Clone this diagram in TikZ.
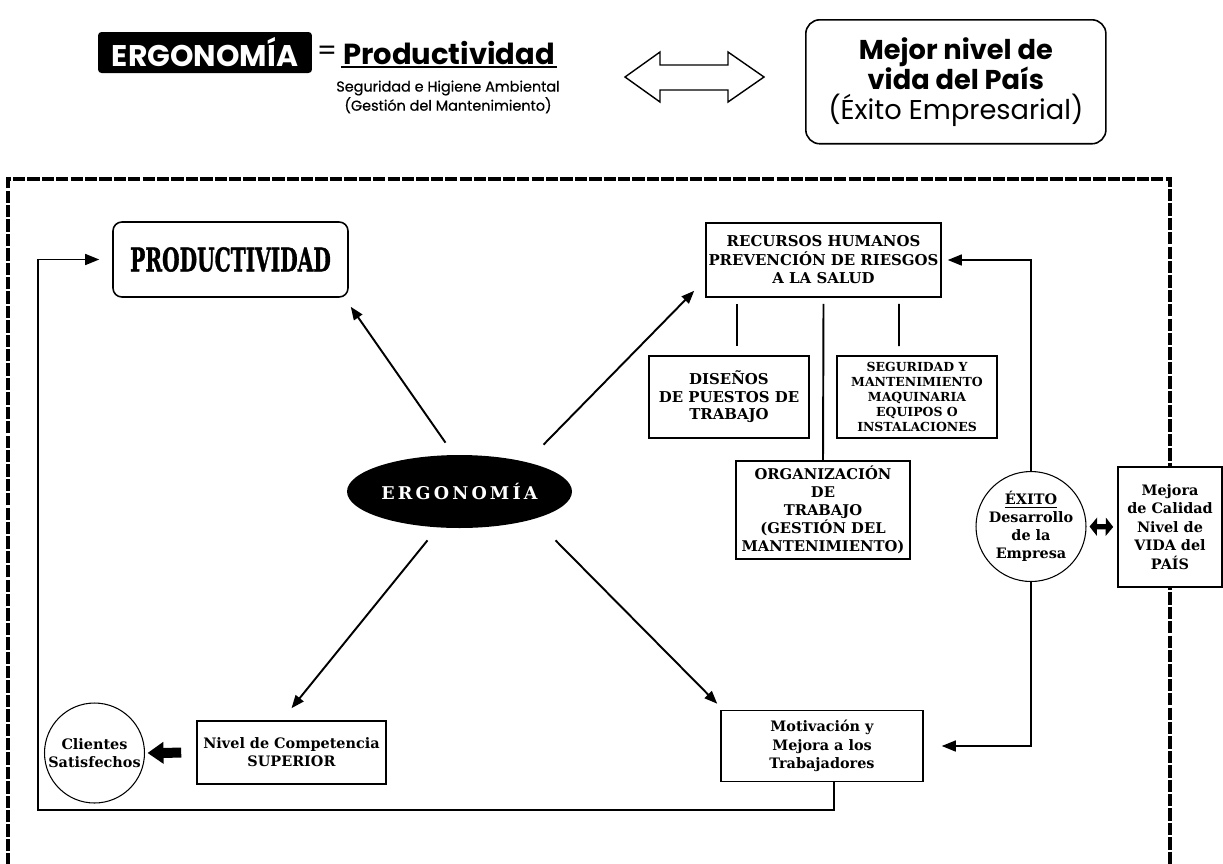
\documentclass[tikz,border=0pt]{standalone}
\usepackage{fontspec}
\setmainfont{DejaVu Serif}
\newfontfamily\geo{Poppins}
\newfontfamily\geomed[FakeBold=0.6]{Poppins}
\newfontfamily\gruesa[BoldFeatures={FakeBold=1.4}]{DejaVu Serif}
\newfontfamily\espaciada[LetterSpace=18]{DejaVu Serif}
\usetikzlibrary{arrows.meta,shapes.geometric}

\tikzset{
	caja/.style={draw, line width=0.9pt, align=center, inner sep=0pt, font=\fontsize{8.5}{10.5}\selectfont\bfseries},
	redonda/.style={caja, rounded corners=5pt},
	circulo/.style={draw, circle, line width=0.6pt, align=center, inner sep=0pt, font=\fontsize{8.2}{10.2}\selectfont\bfseries},
	flecha/.style={-{Triangle[length=0.26cm,width=0.2cm]}, line width=1.1pt},
	retorno/.style={-{Triangle[length=0.28cm,width=0.22cm]}, line width=0.8pt},
	linea/.style={line width=1.1pt},
	marco/.style={line width=1.8pt, dash pattern=on 7pt off 1.2pt},
}

\begin{document}
\begin{tikzpicture}[x=0.02cm, y=-0.02cm]

	\useasboundingbox (0,0) rectangle (1223,863);

	\def\sep{6} % espacio bajo las cajas

	% cabecera
	\node[fill=black, text=white, rounded corners=2pt, minimum width=4.28cm, minimum height=0.82cm, inner sep=0pt, font=\geo\fontsize{17}{18}\selectfont\bfseries] (ergoSup) at (205,52.5) {ERGONOMÍA};
	\node[inner sep=0pt, font=\geo\fontsize{16}{18}\selectfont] (igual) at (327,53) {=};
	\node[inner sep=1pt, font=\geo\fontsize{16.5}{18}\selectfont\bfseries] (prodSup) at (449,53) {Productividad};
	\draw[line width=1.1pt] (prodSup.south west) -- (prodSup.south east);
	\node[inner sep=0pt, align=center, font=\geomed\fontsize{8.2}{9.5}\selectfont] (segSup) at (448,97) {Seguridad e Higiene Ambiental\\(Gestión del Mantenimiento)};

	\draw[line width=0.8pt, line join=miter] (625,77) -- (660,52) -- (660,65) -- (728,65) -- (728,52) -- (764,77)
		-- (728,102) -- (728,90) -- (660,90) -- (660,102) -- cycle;

	\node[draw, rounded corners=8pt, line width=0.9pt, anchor=north west, align=center, inner xsep=0.45cm, minimum height=2.48cm, font=\geo\fontsize{15.5}{17}\selectfont] (mejorSup) at (805,19) {\bfseries Mejor nivel de\\\bfseries vida del País\\(Éxito Empresarial)};

	% marco
	\draw[marco] (8,880) -- (8,179) -- (1170,179) -- (1170,880);

	\node[redonda, minimum width=4.7cm, minimum height=1.5cm, font=\gruesa\fontsize{18.5}{20}\selectfont\bfseries] (prod) at (230.5,259.5) {\scalebox{0.62}[1]{PRODUCTIVIDAD}};
	\node[ellipse, fill=black, text=white, minimum width=4.5cm, minimum height=1.46cm, inner sep=0pt, font=\espaciada\fontsize{10}{12}\selectfont\bfseries] (ergo) at (459.5,491.5) {ERGONOMÍA};

	\node[caja, minimum width=4.7cm, minimum height=1.48cm] (rrhh) at (823.5,260) {RECURSOS HUMANOS\\PREVENCIÓN DE RIESGOS\\A LA SALUD};
	\node[caja, minimum width=3.2cm, minimum height=1.64cm, font=\fontsize{8.5}{10}\selectfont\bfseries] (disenos) at (729,397) {DISEÑOS\\DE PUESTOS DE\\TRABAJO};
	\node[caja, minimum width=3.2cm, minimum height=1.64cm, font=\fontsize{7.1}{8.5}\selectfont\bfseries] (seguridad) at (917,397) {SEGURIDAD Y\\MANTENIMIENTO\\MAQUINARIA\\EQUIPOS O\\INSTALACIONES};
	\node[caja, minimum width=3.48cm, minimum height=1.96cm, font=\fontsize{8.4}{10.2}\selectfont\bfseries] (organiz) at (823,510) {ORGANIZACIÓN\\DE\\TRABAJO\\(GESTIÓN DEL\\MANTENIMIENTO)};

	\node[circulo, minimum size=2.2cm] (exito) at (1031,526.5) {\underline{ÉXITO}\\Desarrollo\\de la\\Empresa};
	\node[caja, fill=white, minimum width=2.08cm, minimum height=2.4cm, font=\fontsize{8.2}{10.5}\selectfont\bfseries] (mejora) at (1170,527) {Mejora\\de Calidad\\Nivel de\\VIDA del\\PAÍS};

	\node[caja, minimum width=4.04cm, minimum height=1.42cm, font=\fontsize{8.2}{10.6}\selectfont\bfseries] (motiv) at (822,746) {Motivación y\\Mejora a los\\Trabajadores};
	\node[caja, minimum width=3.78cm, minimum height=1.26cm, font=\fontsize{8.2}{10.2}\selectfont\bfseries] (nivel) at (291.5,752.5) {Nivel de Competencia\\SUPERIOR};
	\node[circulo, minimum size=2cm] (clientes) at (94.5,753) {Clientes\\Satisfechos};

	% flechas desde ERGONOMIA
	\draw[flecha] ([shift={(-14,-12)}]ergo.north) -- ([shift={(2,9)}]prod.south east);
	\draw[flecha] ([shift={(84,-10)}]ergo.north) -- ([shift={(-11,-7)}]rrhh.south west);
	\draw[flecha] ([shift={(-32,12)}]ergo.south) -- ([shift={(0,-12)}]nivel.north);
	\draw[flecha] ([shift={(96,12)}]ergo.south) -- ([shift={(-3,-6)}]motiv.north west);

	\draw[linea] ([shift={(-86.5,\sep)}]rrhh.south) -- ([shift={(8,-9)}]disenos.north);
	\draw[linea] ([shift={(0,\sep)}]rrhh.south) -- (organiz.north);
	\draw[linea] ([shift={(75.5,\sep)}]rrhh.south) -- ([shift={(-18,-9)}]seguridad.north);

	\draw[retorno, shorten >=0.12cm] (exito.north) |- (rrhh.east);
	\draw[retorno, shorten >=0.36cm] (exito.south) |- (motiv.east);
	\draw[{Triangle[length=0.15cm 0,width=0.36cm 0]}-{Triangle[length=0.15cm 0,width=0.36cm 0]}, line width=3pt, shorten <=0.06cm, shorten >=0.08cm] (exito.east) -- (mejora.west);

	\draw[-{Triangle[length=0.32cm,width=0.42cm]}, line width=0.2cm, shorten <=0.3cm, shorten >=0.05cm] (nivel.west) -- (clientes.east);

	\coordinate (lazo) at (38,810);
	\draw[retorno, shorten >=0.26cm] ([xshift=0.24cm]motiv.south) |- (lazo) |- (prod.west);

\end{tikzpicture}
\end{document}
